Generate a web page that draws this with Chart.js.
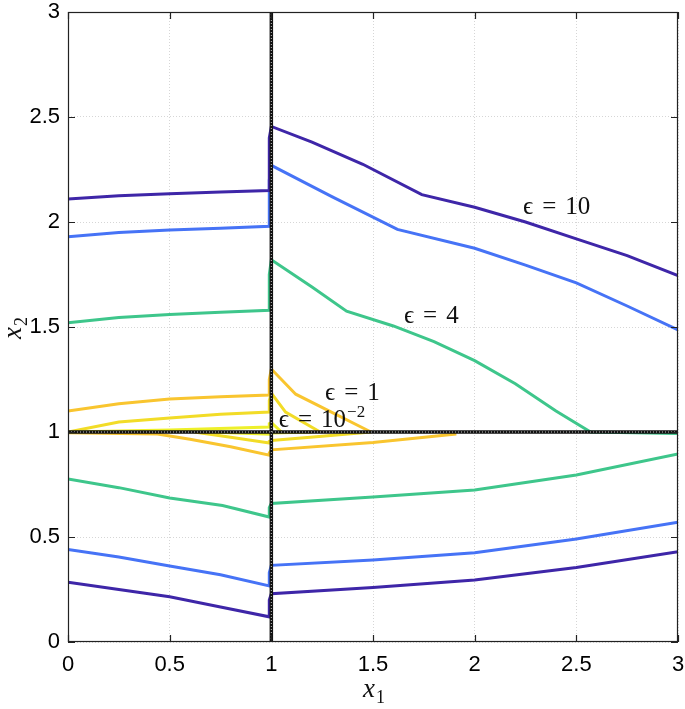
<!DOCTYPE html>
<html>
<head>
<meta charset="utf-8">
<script src="https://cdn.jsdelivr.net/npm/chart.js@4.4.0/dist/chart.umd.min.js"></script>
<style>
  html, body { margin: 0; padding: 0; background: #fff; }
</style>
</head>
<body>
<canvas id="chart" width="685" height="709"></canvas>
<script>
// --- Axes ---
const xTicks = [0, 0.5, 1, 1.5, 2, 2.5, 3];
const yTicks = [0, 0.5, 1, 1.5, 2, 2.5, 3];

// --- Reference lines x1 = 1 and x2 = 1 ---
const vLineX = [1, 1];
const vLineY = [0, 3];
const hLineX = [0, 3];
const hLineY = [1, 1];

// --- eps = 10 (purple) ---
const e10UpX = [0, 0.25, 0.5, 0.75, 0.99, 0.99, 1.0, 1.2, 1.45, 1.74, 2.0, 2.25, 2.5, 2.75, 3.0];
const e10UpY = [2.11, 2.125, 2.135, 2.143, 2.15, 2.40, 2.455, 2.38, 2.275, 2.13, 2.07, 2.0, 1.92, 1.84, 1.745];
const e10LoX = [0, 0.25, 0.5, 0.75, 0.99, 0.99, 1.0, 1.5, 2.0, 2.5, 3.0];
const e10LoY = [0.285, 0.25, 0.215, 0.167, 0.12, 0.2, 0.23, 0.26, 0.295, 0.355, 0.43];

// --- blue contour ---
const e7UpX = [0, 0.25, 0.5, 0.75, 0.99, 0.99, 1.0, 1.3, 1.62, 2.0, 2.25, 2.5, 2.75, 3.0];
const e7UpY = [1.93, 1.95, 1.962, 1.97, 1.98, 2.2, 2.27, 2.12, 1.965, 1.875, 1.795, 1.71, 1.60, 1.486];
const e7LoX = [0, 0.25, 0.5, 0.75, 0.99, 0.99, 1.0, 1.5, 2.0, 2.5, 3.0];
const e7LoY = [0.44, 0.405, 0.362, 0.32, 0.267, 0.33, 0.365, 0.39, 0.425, 0.49, 0.57];

// --- eps = 4 (green) ---
const e4UpX = [0, 0.25, 0.5, 0.75, 0.99, 0.99, 1.0, 1.2, 1.37, 1.6, 1.8, 2.0, 2.2, 2.4, 2.57, 3.0];
const e4UpY = [1.52, 1.545, 1.56, 1.57, 1.58, 1.75, 1.82, 1.69, 1.575, 1.505, 1.43, 1.34, 1.23, 1.10, 1.0, 0.993];
const e4LoX = [0, 0.25, 0.5, 0.76, 0.99, 0.99, 1.0, 1.5, 2.0, 2.5, 3.0];
const e4LoY = [0.776, 0.735, 0.686, 0.65, 0.595, 0.64, 0.66, 0.69, 0.724, 0.795, 0.895];

// --- eps = 1 (orange yellow) ---
const e1UpX = [0, 0.25, 0.5, 0.75, 0.99, 0.99, 1.0, 1.12, 1.49];
const e1UpY = [1.10, 1.135, 1.157, 1.168, 1.176, 1.25, 1.30, 1.18, 1.0];
const e1LoX = [0, 0.44, 0.6, 0.8, 0.99, 0.99, 1.0, 1.5, 1.91];
const e1LoY = [0.996, 0.99, 0.965, 0.93, 0.89, 0.9, 0.915, 0.95, 0.99];

// --- middle yellow ---
const e01UpX = [0, 0.25, 0.5, 0.75, 0.99, 0.99, 1.0, 1.07, 1.24];
const e01UpY = [1.0, 1.048, 1.067, 1.085, 1.095, 1.15, 1.185, 1.095, 1.0];
const e01LoX = [0.62, 0.8, 0.99, 0.99, 1.0, 1.25, 1.49];
const e01LoY = [1.0, 0.975, 0.948, 0.955, 0.96, 0.98, 1.0];

// --- eps = 1e-2 (light yellow) ---
const e001UpX = [0, 0.5, 0.99, 0.99, 1.0, 1.05];
const e001UpY = [1.0, 1.01, 1.024, 1.04, 1.045, 1.0];
const e001LoX = [0.7, 0.99, 0.99, 1.0, 1.2];
const e001LoY = [1.0, 0.99, 0.993, 0.995, 1.0];

// --- Annotations (data coords, left / baseline) ---
const noteX = [2.238, 1.652, 1.264, 1.037];
const noteY = [2.038, 1.519, 1.152, 1.024];
const noteNum = ['10', '4', '1', '10'];
const noteSup = ['', '', '', '\u22122'];

// --- Colours ---
const cPurple = '#3e26a8';
const cBlue = '#4673f6';
const cGreen = '#3ec68b';
const cYellow1 = '#f9c52f';
const cYellow2 = '#f2dc27';
const cYellow3 = '#eef02a';

function pts(xs, ys) {
  return xs.map((x, i) => ({ x: x, y: ys[i] }));
}

function curve(xs, ys, color, width, dash) {
  return {
    data: pts(xs, ys),
    borderColor: color,
    borderWidth: width,
    borderDash: dash || [],
    showLine: true,
    pointRadius: 0,
    tension: 0,
    fill: false
  };
}

// first dataset is drawn on top
const datasets = [
  curve(vLineX, vLineY, 'rgba(255,255,255,0.75)', 1, [1, 2]),
  curve(hLineX, hLineY, 'rgba(255,255,255,0.75)', 1, [1, 2]),
  curve(vLineX, vLineY, '#111', 3.5),
  curve(hLineX, hLineY, '#111', 3.5),
  curve(e10UpX, e10UpY, cPurple, 3),
  curve(e10LoX, e10LoY, cPurple, 3),
  curve(e7UpX, e7UpY, cBlue, 3),
  curve(e7LoX, e7LoY, cBlue, 3),
  curve(e4UpX, e4UpY, cGreen, 3),
  curve(e4LoX, e4LoY, cGreen, 3),
  curve(e001UpX, e001UpY, cYellow3, 3),
  curve(e001LoX, e001LoY, cYellow3, 3),
  curve(e01UpX, e01UpY, cYellow2, 3),
  curve(e01LoX, e01LoY, cYellow2, 3),
  curve(e1UpX, e1UpY, cYellow1, 3),
  curve(e1LoX, e1LoY, cYellow1, 3)
];

const serif = '"Liberation Serif", "DejaVu Serif", serif';

// --- Cadre, ticks internes, annotations, titres ---
const decor = {
  id: 'decor',
  afterDatasetsDraw(chart) {
    const { ctx, chartArea: a, scales: { x, y } } = chart;
    ctx.save();
    ctx.strokeStyle = '#222';
    ctx.lineWidth = 1.2;
    ctx.strokeRect(a.left + 0.5, a.top + 0.5, a.right - a.left - 1, a.bottom - a.top - 1);
    ctx.beginPath();
    xTicks.forEach(v => {
      const px = Math.round(x.getPixelForValue(v)) + 0.5;
      ctx.moveTo(px, a.bottom); ctx.lineTo(px, a.bottom - 7);
      ctx.moveTo(px, a.top); ctx.lineTo(px, a.top + 7);
    });
    yTicks.forEach(v => {
      const py = Math.round(y.getPixelForValue(v)) + 0.5;
      ctx.moveTo(a.left, py); ctx.lineTo(a.left + 7, py);
      ctx.moveTo(a.right, py); ctx.lineTo(a.right - 7, py);
    });
    ctx.stroke();

    // annotations
    ctx.fillStyle = '#111';
    ctx.textBaseline = 'alphabetic';
    ctx.textAlign = 'left';
    noteX.forEach((nx, i) => {
      let px = x.getPixelForValue(nx);
      const py = y.getPixelForValue(noteY[i]);
      ctx.font = '25px ' + serif;
      ctx.fillText('\u03F5', px, py);
      px += ctx.measureText('\u03F5').width + 9;
      ctx.fillText('=', px, py);
      px += ctx.measureText('=').width + 9;
      ctx.fillText(noteNum[i], px, py);
      px += ctx.measureText(noteNum[i]).width + 1;
      if (noteSup[i]) {
        ctx.font = '17px ' + serif;
        ctx.fillText(noteSup[i], px, py - 10);
      }
    });

    // axis titles
    const cx = (a.left + a.right) / 2;
    ctx.font = 'italic 27px ' + serif;
    ctx.fillText('x', cx - 10, 697);
    const wx = ctx.measureText('x').width;
    ctx.font = '18px ' + serif;
    ctx.fillText('1', cx - 10 + wx + 1, 703);

    const cy = (a.top + a.bottom) / 2;
    ctx.translate(21, cy + 12);
    ctx.rotate(-Math.PI / 2);
    ctx.font = 'italic 27px ' + serif;
    ctx.fillText('x', 0, 0);
    ctx.font = '18px ' + serif;
    ctx.fillText('2', wx + 1, 6);
    ctx.restore();
  }
};

const tickFont = { family: '"Liberation Sans", Arial, sans-serif', size: 22 };

new Chart(document.getElementById('chart'), {
  type: 'scatter',
  data: { datasets },
  options: {
    responsive: false,
    animation: false,
    layout: { padding: { top: 12, right: 7, left: 0, bottom: 0 } },
    plugins: { legend: { display: false }, tooltip: { enabled: false } },
    scales: {
      x: {
        type: 'linear', min: 0, max: 3,
        afterBuildTicks: s => { s.ticks = xTicks.map(v => ({ value: v })); },
        grid: { color: '#d6d6d6', lineWidth: 1, drawTicks: false },
        border: { display: false, dash: [1, 2] },
        ticks: { color: '#000', font: tickFont, padding: 10, maxRotation: 0, autoSkip: false,
                 callback: v => String(v) },
        afterFit: s => { s.height = 67; s.paddingLeft = 0; s.paddingRight = 0; }
      },
      y: {
        type: 'linear', min: 0, max: 3,
        afterBuildTicks: s => { s.ticks = yTicks.map(v => ({ value: v })); },
        grid: { color: '#d6d6d6', lineWidth: 1, drawTicks: false },
        border: { display: false, dash: [1, 2] },
        ticks: { color: '#000', font: tickFont, padding: 8, autoSkip: false,
                 callback: v => String(v) },
        afterFit: s => { s.width = 68; s.paddingTop = 0; s.paddingBottom = 0; }
      }
    }
  },
  plugins: [decor]
});
</script>
</body>
</html>
